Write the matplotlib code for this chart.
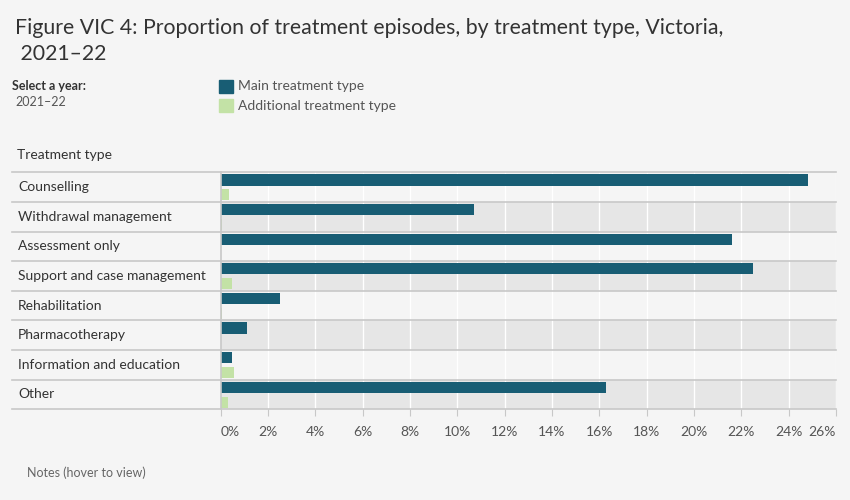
import matplotlib
matplotlib.use('Agg')
import matplotlib.pyplot as plt
import matplotlib.transforms as mtransforms
from matplotlib.lines import Line2D
from matplotlib.patches import Rectangle

# ---- data ----
categories = [
    "Counselling",
    "Withdrawal management",
    "Assessment only",
    "Support and case management",
    "Rehabilitation",
    "Pharmacotherapy",
    "Information and education",
    "Other",
]
main_pct = [24.8, 10.7, 21.6, 22.5, 2.5, 1.1, 0.5, 16.3]
additional_pct = [0.35, 0.05, 0.0, 0.5, 0.05, 0.0, 0.55, 0.3]
xticks = list(range(0, 27, 2))

# ---- style ----
BG = '#f5f5f5'
BAND = '#e6e6e6'
MAIN_C = '#185d74'
ADD_C = '#c3e2a6'
LINE_C = '#c8c8c8'
TXT = '#333333'
plt.rcParams['font.family'] = ['Lato', 'DejaVu Sans']

fig = plt.figure(figsize=(8.5, 5), dpi=100, facecolor=BG)
ax = fig.add_axes([220.5 / 850, 90.7 / 500, (836 - 220.5) / 850, (409.3 - 172.3) / 500])
ax.set_facecolor(BG)

n = len(categories)
ax.set_xlim(0, 26)
ax.set_ylim(n, 0)

# alternating bands
for i in range(n):
    if i % 2 == 1:
        ax.axhspan(i, i + 1, color=BAND, zorder=0, lw=0)

# white vertical gridlines
for t in xticks[1:]:
    ax.axvline(t, color='white', lw=1, zorder=1)

bh = 0.38
ys = list(range(n))
ax.barh([y + 0.257 for y in ys], main_pct, height=bh, color=MAIN_C, zorder=3, align='center')
ax.barh([y + 0.76 for y in ys], additional_pct, height=bh, color=ADD_C, zorder=3, align='center')

# row separators spanning label column
tr = mtransforms.blended_transform_factory(fig.transFigure, ax.transData)
for i in range(n + 1):
    fig.add_artist(Line2D([12 / 850, 836 / 850], [i, i], transform=tr, color=LINE_C, lw=1.2, zorder=4))

# category labels
for i, c in enumerate(categories):
    ax.text(18 / 850, i + 0.5, c, transform=tr, ha='left', va='center', fontsize=10, color=TXT)

# axes cosmetics
for s in ['top', 'right', 'bottom']:
    ax.spines[s].set_visible(False)
ax.spines['left'].set_color(LINE_C)
ax.spines['left'].set_linewidth(1.2)
ax.spines['left'].set_zorder(5)
ax.set_yticks([])
ax.set_xticks(xticks)
ax.set_xticklabels([f"{t}%" for t in xticks])
ax.tick_params(axis='x', length=5, color=LINE_C, labelsize=10, labelcolor='#555555', pad=7)
lbls = ax.get_xticklabels()
lbls[0].set_ha('left')
lbls[-1].set_ha('right')

# titles and header text
fig.text(15 / 850, 1 - 28 / 500, "Figure VIC 4: Proportion of treatment episodes, by treatment type, Victoria,",
         fontsize=15.3, color=TXT, va='center', ha='left')
fig.text(15 / 850, 1 - 54 / 500, " 2021\u201322", fontsize=15.3, color=TXT, va='center', ha='left')
fig.text(12 / 850, 1 - 86 / 500, "Select a year:", fontsize=9, color=TXT, fontweight='bold', va='center')
fig.text(15 / 850, 1 - 102 / 500, "2021\u201322", fontsize=9, color='#555555', va='center')

# legend
fig.add_artist(Rectangle((219 / 850, 1 - 93 / 500), 14 / 850, 13 / 500, transform=fig.transFigure, color=MAIN_C))
fig.add_artist(Rectangle((219 / 850, 1 - 112 / 500), 14 / 850, 13 / 500, transform=fig.transFigure, color=ADD_C))
fig.text(238 / 850, 1 - 86 / 500, "Main treatment type", fontsize=10, color='#555555', va='center')
fig.text(238 / 850, 1 - 106 / 500, "Additional treatment type", fontsize=10, color='#555555', va='center')

fig.text(17 / 850, 1 - 155 / 500, "Treatment type", fontsize=10, color=TXT, va='center')
fig.text(27 / 850, 1 - 473 / 500, "Notes (hover to view)", fontsize=9, color='#666666', va='center')

fig.savefig('out.png', dpi=100, facecolor=BG)
